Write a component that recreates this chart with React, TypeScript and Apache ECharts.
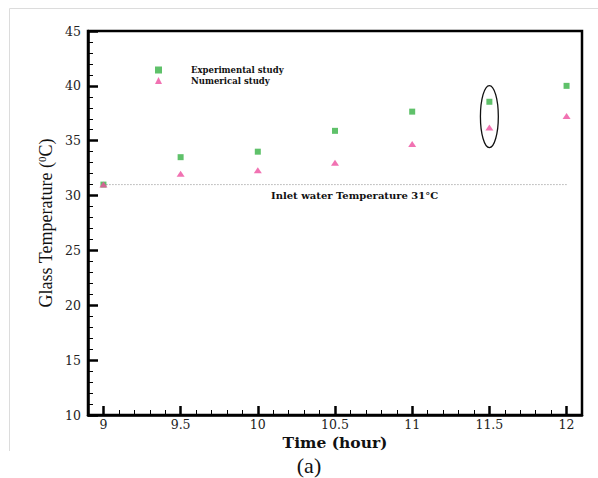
import React, { useEffect, useRef } from "react";
import * as echarts from "echarts";

const timeHours = [9, 9.5, 10, 10.5, 11, 11.5, 12];
const experimentalTemp = [31.0, 33.5, 34.0, 35.9, 37.65, 38.55, 40.0];
const numericalTemp = [31.0, 32.0, 32.3, 33.0, 34.7, 36.2, 37.25];
const inletTemp = 31;
const inletSpan = [9, 12];
const xMajorTicks = [9, 9.5, 10, 10.5, 11, 11.5, 12];
const highlightPoint = [11.5, 37.2];
const highlightRadii = [0.058, 2.83];

const seriesNames = ["Experimental study", "Numerical study"];

export default function App() {
  const ref = useRef<HTMLDivElement>(null);
  useEffect(() => {
    if (!ref.current) return;
    const chart = echarts.init(ref.current, undefined, { renderer: "svg" });
    const serif = "DejaVu Serif";
    const option: any = {
      animation: false,
      backgroundColor: "#fff",
      grid: {
        left: 88,
        right: 16,
        top: 31,
        bottom: 63,
        show: true,
        borderColor: "#000",
        borderWidth: 2.5,
        backgroundColor: "transparent",
      },
      legend: {
        orient: "vertical",
        left: 150,
        top: 60,
        data: seriesNames,
        itemWidth: 7,
        itemHeight: 7,
        itemGap: 0.5,
        selectedMode: false,
        textStyle: {
          fontFamily: serif,
          fontWeight: "bold",
          fontSize: 8.5,
          color: "#111",
          lineHeight: 10,
          padding: [0, 0, 0, 24],
        },
      },
      xAxis: [
        {
          type: "value",
          min: 8.9,
          max: 12.1,
          position: "bottom",
          name: "Time (hour)",
          nameLocation: "middle",
          nameGap: 19,
          nameMoveOverlap: false,
          nameTextStyle: {
            fontFamily: serif,
            fontWeight: "bold",
            fontSize: 15.5,
            color: "#111",
            lineHeight: 16,
          },
          axisLine: { show: true, lineStyle: { color: "#000", width: 2.5 } },
          axisTick: {
            show: true,
            inside: true,
            length: 9,
            customValues: xMajorTicks,
            lineStyle: { color: "#000", width: 2.5 },
          },
          axisLabel: {
            customValues: xMajorTicks,
            margin: 3,
            fontFamily: serif,
            fontSize: 12.5,
            lineHeight: 12,
            color: "#222",
          },
          splitLine: { show: false },
        },
        {
          type: "value",
          min: 8.9,
          max: 12.1,
          interval: 0.1,
          position: "bottom",
          axisLine: { show: false },
          axisTick: {
            show: true,
            inside: true,
            length: 5,
            lineStyle: { color: "#000", width: 1 },
          },
          axisLabel: { show: false },
          splitLine: { show: false },
        },
      ],
      yAxis: {
        type: "value",
        min: 10,
        max: 45,
        interval: 5,
        name: "Glass Temperature ({sup|0}C)",
        nameLocation: "middle",
        nameGap: 32,
        nameMoveOverlap: false,
        nameTextStyle: {
          fontFamily: "Liberation Serif",
          fontSize: 18,
          color: "#111",
          rich: {
            sup: {
              fontFamily: "Liberation Serif",
              fontSize: 11,
              color: "#111",
              verticalAlign: "top",
              lineHeight: 20,
            },
          },
        },
        axisLine: { show: true, lineStyle: { color: "#000", width: 2.5 } },
        axisTick: {
          show: true,
          inside: true,
          length: 10,
          lineStyle: { color: "#000", width: 2.5 },
        },
        minorTick: {
          show: true,
          splitNumber: 5,
          length: 5,
          lineStyle: { color: "#000", width: 1 },
        },
        axisLabel: {
          margin: 7,
          fontFamily: serif,
          fontSize: 12.5,
          color: "#222",
        },
        splitLine: { show: false },
        minorSplitLine: { show: false },
      },
      series: [
        {
          name: "Inlet",
          type: "line",
          silent: true,
          symbol: "none",
          data: inletSpan.map((t) => [t, inletTemp]),
          lineStyle: { color: "#8a8a8a", width: 1, type: [1, 2] },
          z: 1,
        },
        {
          name: seriesNames[0],
          type: "scatter",
          symbol: "rect",
          symbolSize: 6,
          itemStyle: { color: "#37b245" },
          data: timeHours.map((t, i) => [t, experimentalTemp[i]]),
          z: 3,
        },
        {
          name: seriesNames[1],
          type: "scatter",
          symbol: "triangle",
          symbolSize: [8, 6],
          itemStyle: { color: "#ee4f9f" },
          data: timeHours.map((t, i) => [t, numericalTemp[i]]),
          z: 4,
        },
        {
          name: "Highlight",
          type: "custom",
          silent: true,
          data: [highlightPoint],
          renderItem: (params: any, api: any) => {
            const c = api.coord([api.value(0), api.value(1)]);
            const s = api.size([highlightRadii[0] * 2, highlightRadii[1] * 2]);
            return {
              type: "ellipse",
              shape: { cx: c[0], cy: c[1], rx: s[0] / 2, ry: s[1] / 2 },
              style: { fill: "none", stroke: "#111", lineWidth: 1.3 },
            };
          },
          z: 5,
        },
      ],
      graphic: [
        {
          type: "line",
          shape: { x1: 9.5, y1: 8.5, x2: 598, y2: 8.5 },
          style: { stroke: "#dcdcdc", lineWidth: 1 },
          silent: true,
        },
        {
          type: "line",
          shape: { x1: 9.5, y1: 8.5, x2: 9.5, y2: 451 },
          style: { stroke: "#dcdcdc", lineWidth: 1 },
          silent: true,
        },
        {
          type: "text",
          x: 271,
          y: 195,
          style: {
            text: "Inlet water Temperature 31°C",
            font: `bold 10px "${serif}"`,
            fill: "#111",
            textAlign: "left",
            textVerticalAlign: "middle",
          },
        },
        {
          type: "text",
          x: 309,
          y: 465,
          style: {
            text: "(a)",
            font: '22px "Liberation Serif"',
            fill: "#111",
            textAlign: "center",
            textVerticalAlign: "middle",
          },
        },
      ],
    };
    chart.setOption(option);
    return () => chart.dispose();
  }, []);
  return (
    <div
      ref={ref}
      style={{ position: "fixed", left: 0, top: 0, width: 598, height: 478 }}
    />
  );
}
